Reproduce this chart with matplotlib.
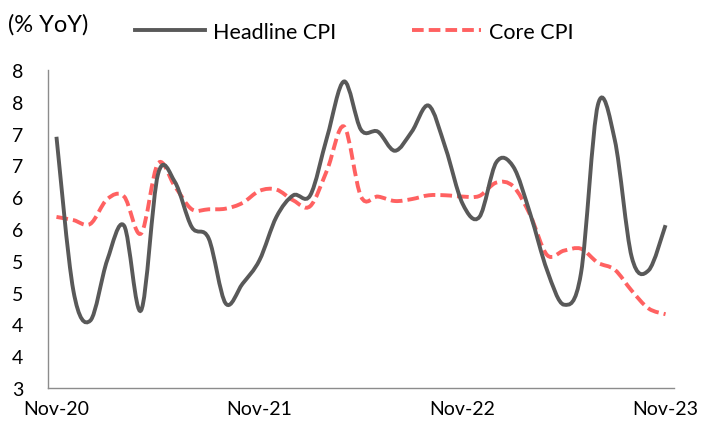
import numpy as np
import matplotlib.pyplot as plt
from matplotlib.path import Path
from matplotlib.patches import PathPatch
from matplotlib.lines import Line2D

plt.rcParams['font.family'] = ['Lato', 'DejaVu Sans']

# monthly data, Nov-20 .. Nov-23
headline = [6.95, 4.53, 4.06, 5.01, 5.55, 4.22, 6.36, 6.24, 5.53, 5.35,
            4.33, 4.64, 5.01, 5.69, 6.03, 6.03, 6.95, 7.82, 7.06, 7.03,
            6.73, 7.03, 7.44, 6.77, 5.90, 5.69, 6.55, 6.48, 5.74, 4.85,
            4.31, 4.80, 7.45, 6.90, 5.06, 4.85, 5.56]
core = [5.69, 5.64, 5.58, 5.97, 6.01, 5.43, 6.53, 6.17, 5.81, 5.81,
        5.82, 5.91, 6.10, 6.12, 5.95, 5.86, 6.43, 7.11, 6.01, 6.01,
        5.94, 5.97, 6.03, 6.03, 6.01, 6.02, 6.23, 6.17, 5.72, 5.09,
        5.16, 5.19, 4.97, 4.86, 4.53, 4.25, 4.16]
x_labels = ["Nov-20", "Nov-21", "Nov-22", "Nov-23"]
y_ticks = [3, 3.5, 4, 4.5, 5, 5.5, 6, 6.5, 7, 7.5, 8]
y_labels = ["3", "4", "4", "5", "5", "6", "6", "7", "7", "8", "8"]

DARK = "#595959"
RED = "#FF6161"
LW = 2.8
DASH = (0, (3.0, 1.3))


def smooth_path(xs, ys):
    # excel-style smoothed line: cubic bezier through every point
    pts = np.column_stack([xs, ys])
    verts = [pts[0]]
    codes = [Path.MOVETO]
    n = len(pts)
    for i in range(n - 1):
        p0 = pts[i - 1] if i > 0 else pts[i]
        p1 = pts[i]
        p2 = pts[i + 1]
        p3 = pts[i + 2] if i + 2 < n else pts[i + 1]
        c1 = p1 + (p2 - p0) / 6
        c2 = p2 - (p3 - p1) / 6
        verts += [c1, c2, p2]
        codes += [Path.CURVE4] * 3
    return Path(verts, codes)


fig = plt.figure(figsize=(7.01, 4.27), dpi=100)
ax = fig.add_axes([48 / 701, 1 - 389 / 427, 626 / 701, 318 / 427])

x = np.arange(len(headline))
ax.add_patch(PathPatch(smooth_path(x, core), fill=False, edgecolor=RED,
                       lw=LW, linestyle=DASH, capstyle='butt'))
ax.add_patch(PathPatch(smooth_path(x, headline), fill=False, edgecolor=DARK,
                       lw=LW, capstyle='butt'))

ax.set_xlim(-0.5, len(headline) - 0.5)
ax.set_ylim(3, 8)
ax.set_xticks([0, 12, 24, 36])
ax.set_xticklabels(x_labels)
ax.set_yticks(y_ticks)
ax.set_yticklabels(y_labels, ha='left')
ax.tick_params(axis='both', length=0, labelsize=14, colors='black')
ax.tick_params(axis='y', pad=26)
ax.tick_params(axis='x', pad=9)

for s in ['top', 'right']:
    ax.spines[s].set_visible(False)
for s in ['left', 'bottom']:
    ax.spines[s].set_color('#8C8C8C')
    ax.spines[s].set_linewidth(1.0)

fig.text(8 / 701, 1 - 25 / 427, "(% YoY)", fontsize=17, va='center')
handles = [Line2D([], [], color=DARK, lw=LW),
           Line2D([], [], color=RED, lw=LW, linestyle=DASH)]
fig.legend(handles, ["Headline CPI", "Core CPI"], ncol=2, frameon=False,
           loc='center left', bbox_to_anchor=(135 / 701, 1 - 33 / 427),
           fontsize=15.5, handlelength=3.25, handletextpad=0.37,
           columnspacing=3.5, borderaxespad=0, borderpad=0)

fig.savefig("out.png", dpi=100)
